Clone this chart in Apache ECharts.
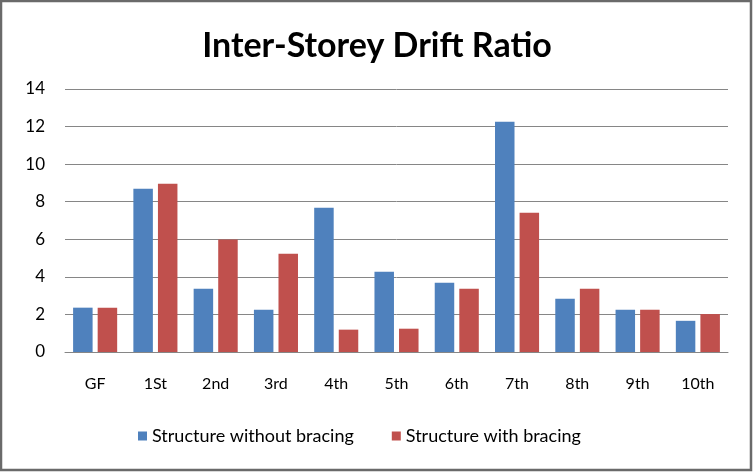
<!DOCTYPE html>
<html><head><meta charset="utf-8">
<script src="https://cdn.jsdelivr.net/npm/echarts@6/dist/echarts.min.js"></script>
<style>html,body{margin:0;padding:0;background:#fff}#c{width:754px;height:473px}</style>
</head><body><div id="c"></div>
<script>
const categories = ['GF','1St','2nd','3rd','4th','5th','6th','7th','8th','9th','10th'];
const withoutBracing = [2.36, 8.69, 3.37, 2.25, 7.68, 4.27, 3.69, 12.26, 2.84, 2.25, 1.66];
const withBracing = [2.36, 8.96, 5.99, 5.23, 1.19, 1.24, 3.37, 7.41, 3.37, 2.25, 2.02];
const seriesNames = ['Structure without bracing', 'Structure with bracing'];
const font = 'Lato';
const chart = echarts.init(document.getElementById('c'));
chart.setOption({
  animation: false,
  backgroundColor: '#fff',
  title: { text: 'Inter-Storey Drift Ratio', left: 'center', top: 24,
    textStyle: { fontFamily: font, fontWeight: 'bold', fontSize: 34, color: '#000' } },
  grid: { left: 65, right: 26, top: 89, bottom: 121 },
  legend: { bottom: 23, left: 133, itemWidth: 9, itemHeight: 9, itemGap: 38, icon: 'rect',
    textStyle: { fontFamily: font, fontSize: 18, color: '#000' }, data: seriesNames },
  xAxis: { type: 'category', data: categories,
    axisLine: { lineStyle: { color: '#868686' } }, axisTick: { show: false },
    axisLabel: { fontFamily: font, fontSize: 16, color: '#000', margin: 24 } },
  yAxis: { type: 'value', min: 0, max: 14, interval: 2,
    axisLine: { show: false }, axisTick: { show: false },
    splitLine: { lineStyle: { color: '#868686' } },
    axisLabel: { fontFamily: font, fontSize: 17, color: '#000', margin: 20 } },
  series: [
    { name: seriesNames[0], type: 'bar', data: withoutBracing, barWidth: 19.5, barGap: '26%', itemStyle: { color: '#4F81BD' } },
    { name: seriesNames[1], type: 'bar', data: withBracing, barWidth: 19.5, itemStyle: { color: '#C0504D' } }
  ],
  graphic: [{ type: 'rect', shape: { x: 1, y: 1, width: 750, height: 469 },
    style: { fill: 'none', stroke: '#6a6a6a', lineWidth: 2.5 }, silent: true }]
});
</script></body></html>
